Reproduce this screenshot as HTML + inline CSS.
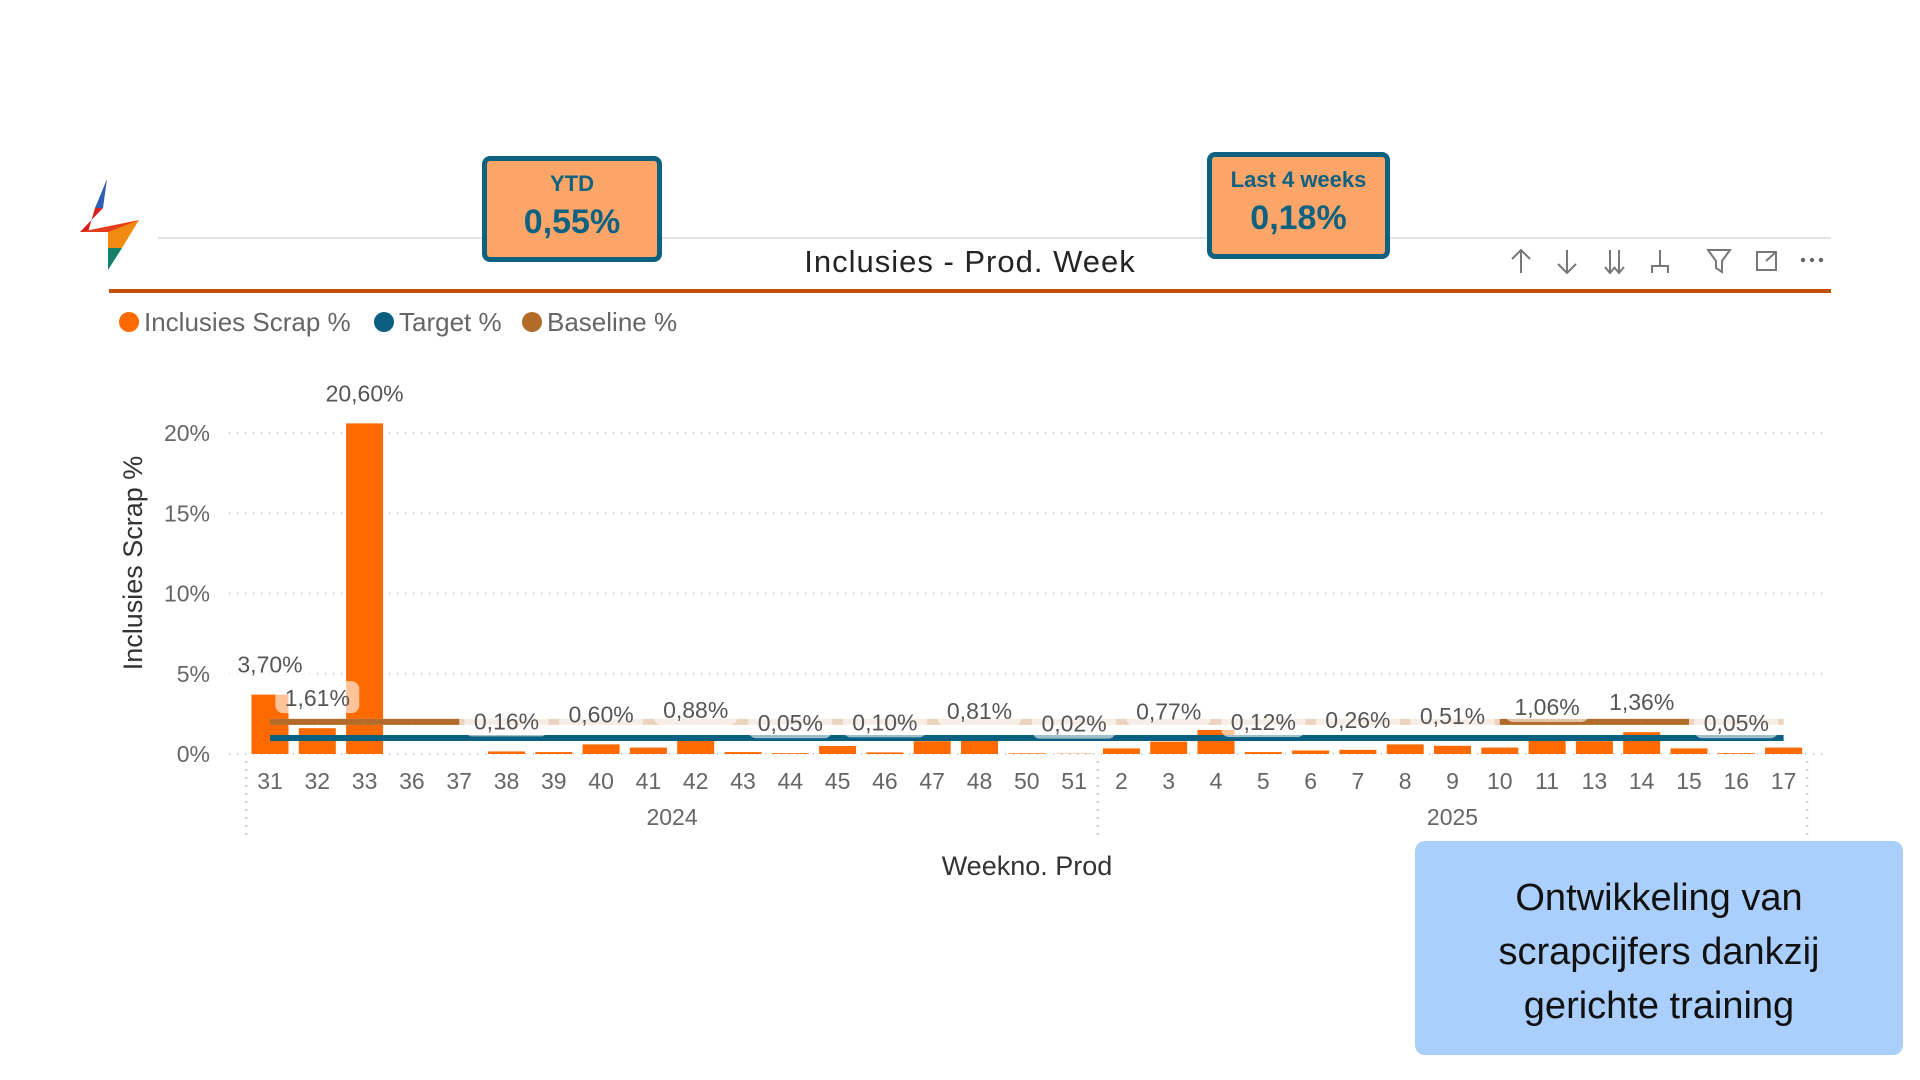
<!DOCTYPE html>
<html><head><meta charset="utf-8"><style>
html,body{margin:0;padding:0;background:#fff;width:1920px;height:1080px;overflow:hidden;font-family:"Liberation Sans",sans-serif}
.abs{position:absolute}
.kpi{position:absolute;background:#fca569;border:5px solid #0e6280;border-radius:8px;box-sizing:border-box;text-align:center;color:#0e6280;font-weight:bold}
</style></head><body>
<svg class="abs" style="left:0;top:0" width="1920" height="1080">
  <g>
    <polygon points="107,179 103,208 95,208" fill="#2e5fb0"/>
    <polygon points="95,208 103,208 80,232 88,232" fill="#d81e1e"/>
    <polygon points="80,232 139,220 108,248 108,232" fill="#e83a1c"/>
    <polygon points="108,232 139,220 122,248 108,248" fill="#f08a10"/>
    <polygon points="108,248 122,248 108,270" fill="#12806a"/>
  </g>
  <line x1="158" y1="238" x2="1831" y2="238" stroke="#e3e3e3" stroke-width="2"/>
  <line x1="109" y1="291" x2="1831" y2="291" stroke="#c0500a" stroke-width="4"/>
  <text x="970" y="272" text-anchor="middle" font-size="31" fill="#252423" font-family="Liberation Sans, sans-serif" letter-spacing="1">Inclusies - Prod. Week</text>
  <g fill="none" stroke="#777" stroke-width="2">
    <g><line x1="1521" y1="250" x2="1521" y2="273"/><polyline points="1512,259 1521,250 1530,259"/></g>
    <g><line x1="1567" y1="250" x2="1567" y2="273"/><polyline points="1558,264 1567,273 1576,264"/></g>
    <g><line x1="1610" y1="250" x2="1610" y2="273"/><line x1="1619" y1="250" x2="1619" y2="273"/><polyline points="1605,267 1610,273 1615,267"/><polyline points="1614,267 1619,273 1624,267"/></g>
    <g><line x1="1660" y1="250" x2="1660" y2="266"/><polyline points="1652,273 1652,266 1668,266 1668,273"/></g>
    <g><polygon points="1708,250 1730,250 1722,261 1722,272 1716,268 1716,261"/></g>
    <g><rect x="1757" y="252" width="19" height="18"/><polyline points="1766,261 1776,252"/></g>
  </g>
  <g fill="#666"><circle cx="1803" cy="260" r="2.2"/><circle cx="1812" cy="260" r="2.2"/><circle cx="1821" cy="260" r="2.2"/></g>
  <g font-size="26" fill="#666" font-family="Liberation Sans, sans-serif">
    <g><circle cx="129" cy="322" r="10" fill="#ff6a00"/><text x="144" y="331">Inclusies Scrap %</text></g>
    <g><circle cx="384" cy="322" r="10" fill="#0a6080"/><text x="399" y="331">Target %</text></g>
    <g><circle cx="532" cy="322" r="10" fill="#b36b2a"/><text x="547" y="331">Baseline %</text></g>
  </g>
  <text transform="translate(142,563) rotate(-90)" text-anchor="middle" font-size="27" fill="#333" font-family="Liberation Sans, sans-serif">Inclusies Scrap %</text>
  <text x="1027" y="875" text-anchor="middle" font-size="27" fill="#333" font-family="Liberation Sans, sans-serif">Weekno. Prod</text>
  <g id="plot"></g>
</svg>
<div class="kpi" style="left:482px;top:156px;width:180px;height:106px">
  <div style="font-size:22px;margin-top:10px">YTD</div>
  <div style="font-size:34px;margin-top:6px">0,55%</div>
</div>
<div class="kpi" style="left:1207px;top:152px;width:183px;height:107px">
  <div style="font-size:22px;margin-top:10px">Last 4 weeks</div>
  <div style="font-size:34px;margin-top:6px">0,18%</div>
</div>
<div class="abs" style="left:1415px;top:841px;width:488px;height:214px;background:#aacffc;border-radius:10px;text-align:center;font-size:38px;line-height:54px;color:#111;box-sizing:border-box;padding-top:30px">Ontwikkeling van<br>scrapcijfers dankzij<br>gerichte training</div>
<script>
const categories = ["31","32","33","36","37","38","39","40","41","42","43","44","45","46","47","48","50","51","2","3","4","5","6","7","8","9","10","11","13","14","15","16","17"];
const years = ["2024","2025"];
const yearCounts = [18,15];
const scrapValues = [3.70,1.61,20.60,0,0,0.16,0.12,0.60,0.40,0.88,0.12,0.05,0.50,0.10,0.80,0.81,0.04,0.02,0.35,0.77,1.50,0.12,0.22,0.26,0.60,0.51,0.40,1.06,0.80,1.36,0.35,0.05,0.40];
const targetValues = [1,1,1,1,1,1,1,1,1,1,1,1,1,1,1,1,1,1,1,1,1,1,1,1,1,1,1,1,1,1,1,1,1];
const baselineValues = [2,2,2,2,2,2,2,2,2,2,2,2,2,2,2,2,2,2,2,2,2,2,2,2,2,2,2,2,2,2,2,2,2];
const baselineActive = [1,1,1,1,1,0,0,0,0,0,0,0,0,0,0,0,0,0,0,0,0,0,0,0,0,0,1,1,1,1,1,0,0];
const labelled = ["31","32","33","38","40","42","44","46","48","51","3","5","7","9","11","14","16"];
const yTicks = [0,5,10,15,20];

const NS="http://www.w3.org/2000/svg";
const plot=document.getElementById('plot');
const X0=270, STEP=47.3, Y0=754, PX=16.05, BW=37;
const x=i=>X0+i*STEP;
const y=v=>Y0-v*PX;
function mk(tag,attrs,parent){const e=document.createElementNS(NS,tag);for(const k in attrs)e.setAttribute(k,attrs[k]);(parent||plot).appendChild(e);return e;}
const fmt=v=>v.toFixed(2).replace('.',',')+'%';

yTicks.forEach(t=>{
  const g=mk('line',{x1:229,x2:1825,y1:y(t),y2:y(t),stroke:'#c8c8c8','stroke-width':2,'stroke-dasharray':'1 7'});
  
  
  const tx=mk('text',{x:210,y:y(t)+8,'text-anchor':'end','font-size':23,fill:'#666','font-family':'Liberation Sans, sans-serif'});
  tx.textContent=t+'%';
  
  
});

scrapValues.forEach((v,i)=>{
  const r=mk('rect',{x:x(i)-BW/2,y:y(v),width:BW,height:Math.max(0,Y0-y(v)),fill:'#ff6a00'});
  
  
  const t=mk('text',{x:x(i),y:780+9,'text-anchor':'middle','font-size':23,fill:'#666','font-family':'Liberation Sans, sans-serif'});
  t.textContent=categories[i];
  
  
});

// baseline faded full, then active segments
let bp=baselineValues.map((v,i)=>x(i)+','+y(v)).join(' ');
const bl=mk('polyline',{points:bp,fill:'none',stroke:'#ebd3bd','stroke-width':6});


for(let i=0;i<baselineValues.length-1;i++){
  if(baselineActive[i]&&baselineActive[i+1]){
    const s=mk('line',{x1:x(i),y1:y(baselineValues[i]),x2:x(i+1),y2:y(baselineValues[i+1]),stroke:'#b36b2a','stroke-width':6});
    
    
  }
}
const tp=targetValues.map((v,i)=>x(i)+','+y(v)).join(' ');
const tl=mk('polyline',{points:tp,fill:'none',stroke:'#0a6080','stroke-width':6});



// vertical year separators
[0,18,33].forEach(k=>{
  const xx=X0+(k-0.5)*STEP;
  const l=mk('line',{x1:xx,x2:xx,y1:761,y2:841,stroke:'#ccc','stroke-width':2,'stroke-dasharray':'2 6'});
  
  
});
let start=0;
years.forEach((yr,j)=>{
  const mid=(x(start)+x(start+yearCounts[j]-1))/2;
  const t=mk('text',{x:mid,y:825,'text-anchor':'middle','font-size':23,fill:'#666','font-family':'Liberation Sans, sans-serif'});
  t.textContent=yr;
  
  
  start+=yearCounts[j];
});

labelled.forEach(c=>{
  const i=categories.indexOf(c);const v=scrapValues[i];
  const ly=y(v)-30;
  const bg=mk('rect',{x:x(i)-42,y:ly-17,width:84,height:32,rx:8,fill:'#fff','fill-opacity':0.6});
  
  
  const t=mk('text',{x:x(i),y:ly+8,'text-anchor':'middle','font-size':23,fill:'#555','font-family':'Liberation Sans, sans-serif'});
  t.textContent=fmt(v);
  
  
});
</script>
</body></html>
